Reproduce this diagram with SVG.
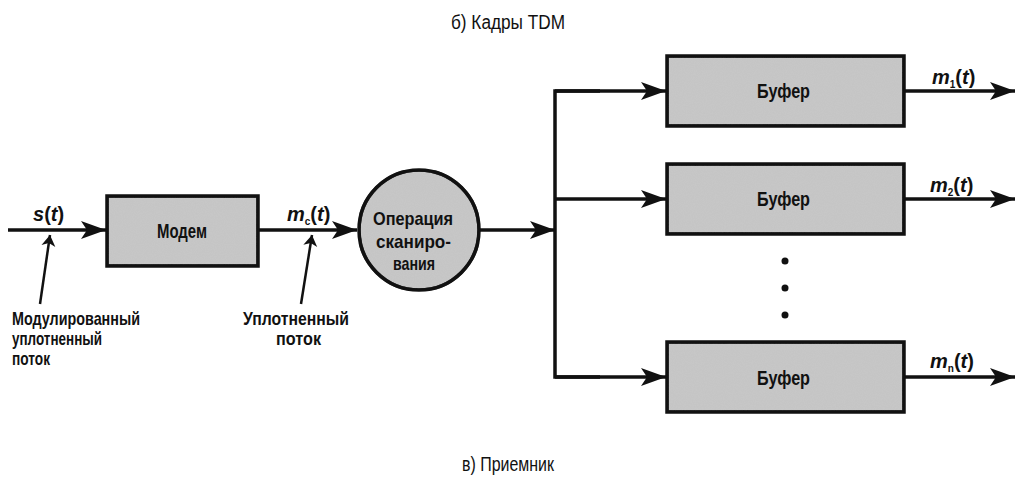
<svg xmlns="http://www.w3.org/2000/svg" width="1017" height="479" viewBox="0 0 1017 479">
<style>
  .t{font-family:"Liberation Sans",Arial,sans-serif;fill:#111;}
  .b{font-weight:bold;}
  .box{fill:#c8c8c8;stroke:#111;stroke-width:3.5;}
  .edge{fill:none;stroke:#111;stroke-width:3.5;}
  .ln{fill:none;stroke:#111;stroke-width:3.5;}
  .pt{fill:none;stroke:#111;stroke-width:2.5;}
  .i{font-style:italic;}
</style>
<defs>
  <marker id="ah" markerUnits="userSpaceOnUse" markerWidth="26" markerHeight="20" viewBox="0 0 26 20" refX="25" refY="10" orient="auto">
    <path d="M0,1 L25,10 L0,19 L6,10 z" fill="#111"/>
  </marker>
  <marker id="ahs" markerUnits="userSpaceOnUse" markerWidth="12" markerHeight="16" viewBox="0 0 12 16" refX="11" refY="8" orient="auto">
    <path d="M0,1 L11,8 L0,15 L3,8 z" fill="#111"/>
  </marker>
  <filter id="grain" x="0" y="0" width="1" height="1">
    <feTurbulence type="fractalNoise" baseFrequency="0.9" numOctaves="2" seed="3" result="n"/>
    <feColorMatrix in="n" type="matrix" values="0 0 0 0 0.5  0 0 0 0 0.5  0 0 0 0 0.5  0 0 0 0.35 0" result="g"/>
    <feComposite in="g" in2="SourceGraphic" operator="atop"/>
  </filter>
</defs>

<text class="t" x="451" y="29" font-size="20" textLength="114" lengthAdjust="spacingAndGlyphs">б) Кадры TDM</text>
<text class="t" x="462" y="471" font-size="20" textLength="92" lengthAdjust="spacingAndGlyphs">в) Приемник</text>

<g id="connectors">
  <line class="ln" x1="8" y1="230" x2="106" y2="230" marker-end="url(#ah)"/>
  <line class="ln" x1="259" y1="230" x2="357" y2="230" marker-end="url(#ah)"/>
  <line class="ln" x1="480" y1="230" x2="555" y2="230" marker-end="url(#ah)"/>
  <path class="ln" d="M600,91 H555 V377 H600"/>
  <line class="ln" x1="555" y1="91" x2="666" y2="91" marker-end="url(#ah)"/>
  <line class="ln" x1="555" y1="199" x2="666" y2="199" marker-end="url(#ah)"/>
  <line class="ln" x1="555" y1="377" x2="666" y2="377" marker-end="url(#ah)"/>
  <line class="ln" x1="905" y1="91" x2="1015" y2="91" marker-end="url(#ah)"/>
  <line class="ln" x1="905" y1="199" x2="1015" y2="199" marker-end="url(#ah)"/>
  <line class="ln" x1="905" y1="377" x2="1015" y2="377" marker-end="url(#ah)"/>
  <line class="pt" x1="40" y1="304" x2="50" y2="235" marker-end="url(#ahs)"/>
  <line class="pt" x1="301" y1="304" x2="312" y2="235" marker-end="url(#ahs)"/>
</g>

<g id="labels">
  <text class="t b" x="33" y="221" font-size="20"><tspan class="i">s</tspan>(<tspan class="i">t</tspan>)</text>
  <text class="t b" x="287" y="221" font-size="20"><tspan class="i">m</tspan><tspan font-size="10" dy="4">c</tspan><tspan dy="-4">(</tspan><tspan class="i">t</tspan>)</text>
  <text class="t b" x="932" y="84" font-size="20"><tspan class="i">m</tspan><tspan font-size="10" dy="4">1</tspan><tspan dy="-4">(</tspan><tspan class="i">t</tspan>)</text>
  <text class="t b" x="930" y="192" font-size="20"><tspan class="i">m</tspan><tspan font-size="10" dy="4">2</tspan><tspan dy="-4">(</tspan><tspan class="i">t</tspan>)</text>
  <text class="t b" x="930" y="368" font-size="20"><tspan class="i">m</tspan><tspan font-size="10" dy="4">n</tspan><tspan dy="-4">(</tspan><tspan class="i">t</tspan>)</text>
  <text class="t b" font-size="18.5">
    <tspan x="12" y="325" textLength="128" lengthAdjust="spacingAndGlyphs">Модулированный</tspan>
    <tspan x="12" y="345" textLength="90" lengthAdjust="spacingAndGlyphs">уплотненный</tspan>
    <tspan x="12" y="365" textLength="38" lengthAdjust="spacingAndGlyphs">поток</tspan>
  </text>
  <text class="t b" font-size="18.5">
    <tspan x="243" y="325" textLength="106" lengthAdjust="spacingAndGlyphs">Уплотненный</tspan>
    <tspan x="276" y="345" textLength="45" lengthAdjust="spacingAndGlyphs">поток</tspan>
  </text>
</g>

<g id="modem">
  <rect class="box" x="107" y="196" width="151" height="70" filter="url(#grain)"/>
  <rect class="edge" x="107" y="196" width="151" height="70"/>
  <text class="t b" x="157" y="238" font-size="21" textLength="50" lengthAdjust="spacingAndGlyphs">Модем</text>
</g>

<g id="scan">
  <circle class="box" cx="419" cy="230" r="60" filter="url(#grain)"/>
  <circle class="edge" cx="419" cy="230" r="60"/>
  <text class="t b" font-size="19">
    <tspan x="373" y="225" textLength="80" lengthAdjust="spacingAndGlyphs">Операция</tspan>
    <tspan x="376" y="248" textLength="75" lengthAdjust="spacingAndGlyphs">сканиро-</tspan>
    <tspan x="393" y="270" textLength="42" lengthAdjust="spacingAndGlyphs">вания</tspan>
  </text>
</g>

<g id="buffer1">
  <rect class="box" x="667" y="56" width="237" height="70" filter="url(#grain)"/>
  <rect class="edge" x="667" y="56" width="237" height="70"/>
  <text class="t b" x="757" y="98" font-size="20" textLength="53" lengthAdjust="spacingAndGlyphs">Буфер</text>
</g>
<g id="buffer2">
  <rect class="box" x="667" y="164" width="237" height="70" filter="url(#grain)"/>
  <rect class="edge" x="667" y="164" width="237" height="70"/>
  <text class="t b" x="757" y="206" font-size="20" textLength="53" lengthAdjust="spacingAndGlyphs">Буфер</text>
</g>
<g id="buffern">
  <rect class="box" x="667" y="342" width="237" height="70" filter="url(#grain)"/>
  <rect class="edge" x="667" y="342" width="237" height="70"/>
  <text class="t b" x="757" y="385" font-size="20" textLength="53" lengthAdjust="spacingAndGlyphs">Буфер</text>
</g>

<g id="dots">
  <circle cx="785" cy="261" r="3.5" fill="#111"/>
  <circle cx="785" cy="288" r="3.5" fill="#111"/>
  <circle cx="785" cy="315" r="3.5" fill="#111"/>
</g>
</svg>
